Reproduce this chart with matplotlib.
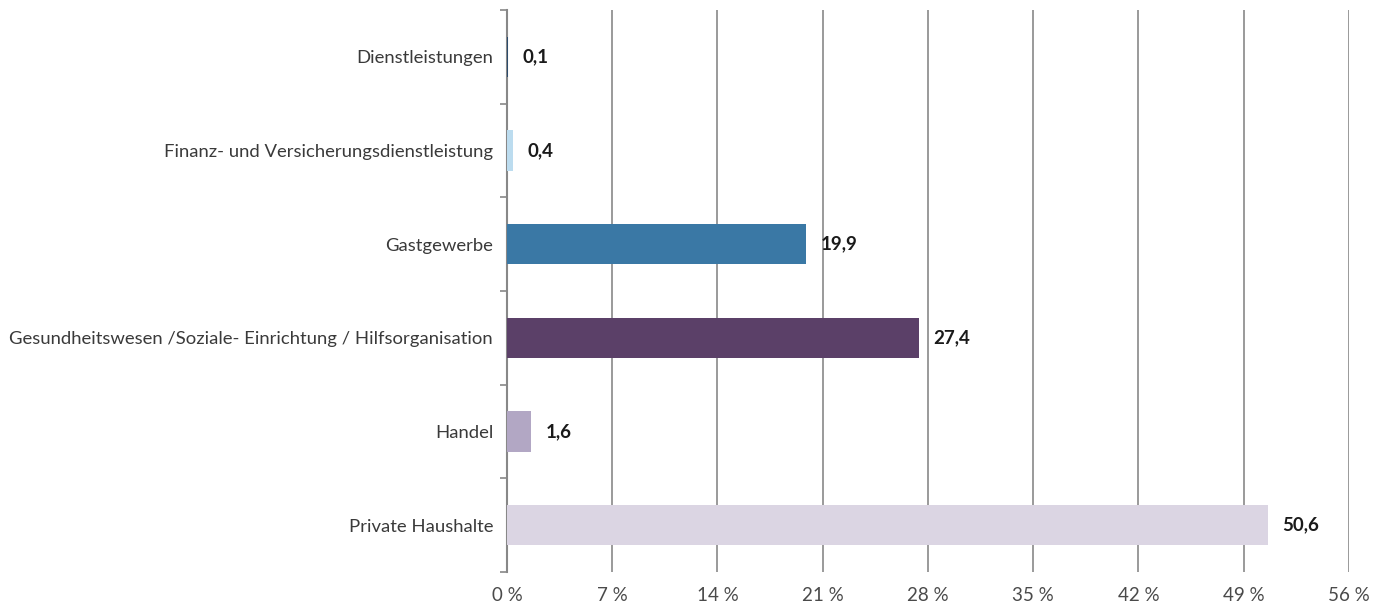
import numpy as np
import matplotlib
matplotlib.use("Agg")
from matplotlib import pyplot as plt
from matplotlib.ticker import FixedLocator

categories = [
    "Dienstleistungen",
    "Finanz- und Versicherungsdienstleistung",
    "Gastgewerbe",
    "Gesundheitswesen /Soziale- Einrichtung / Hilfsorganisation",
    "Handel",
    "Private Haushalte",
]
values = [0.1, 0.4, 19.9, 27.4, 1.6, 50.6]
value_labels = ["0,1", "0,4", "19,9", "27,4", "1,6", "50,6"]
colors = ["#2b4a6b", "#bcdcef", "#3a78a5", "#5b4068", "#b2a7c4", "#dbd5e3"]
x_ticks = [0, 7, 14, 21, 28, 35, 42, 49, 56]

plt.rcParams["font.family"] = ["Lato", "DejaVu Sans"]

fig = plt.figure(figsize=(13.89, 6.06), dpi=100)
ax = fig.add_axes([0.365, 0.0561, 0.9712 - 0.365, 0.9835 - 0.0561])

y = np.arange(len(categories))
ax.barh(y, values, height=0.43, color=colors, zorder=3)

for yi, v, lab in zip(y, values, value_labels):
    ax.text(v + 0.95, yi, lab, va="center", ha="left", fontsize=13.5,
            fontweight="bold", color="#1a1a1a", zorder=4)

ax.set_xlim(0, 56)
ax.set_ylim(len(categories) - 0.5, -0.5)
ax.set_xticks(x_ticks)
ax.set_xticklabels([f"{t} %" for t in x_ticks], fontsize=13.5, color="#4a4a4a")
ax.tick_params(axis="x", length=0, pad=11)
ax.xaxis.grid(True, color="#9a9a9a", linewidth=1.4, zorder=0)

ax.set_yticks(y)
ax.set_yticklabels(categories, fontsize=13.3, color="#3a3a3a")
ax.tick_params(axis="y", which="major", length=0, pad=10)
ax.yaxis.set_minor_locator(FixedLocator(np.arange(-0.5, len(categories), 1)))
ax.tick_params(axis="y", which="minor", length=5, color="#888888", width=1.2)

for s in ["top", "right", "bottom"]:
    ax.spines[s].set_visible(False)
ax.spines["left"].set_color("#888888")
ax.spines["left"].set_linewidth(1.5)

fig.savefig("out.png", dpi=100)
